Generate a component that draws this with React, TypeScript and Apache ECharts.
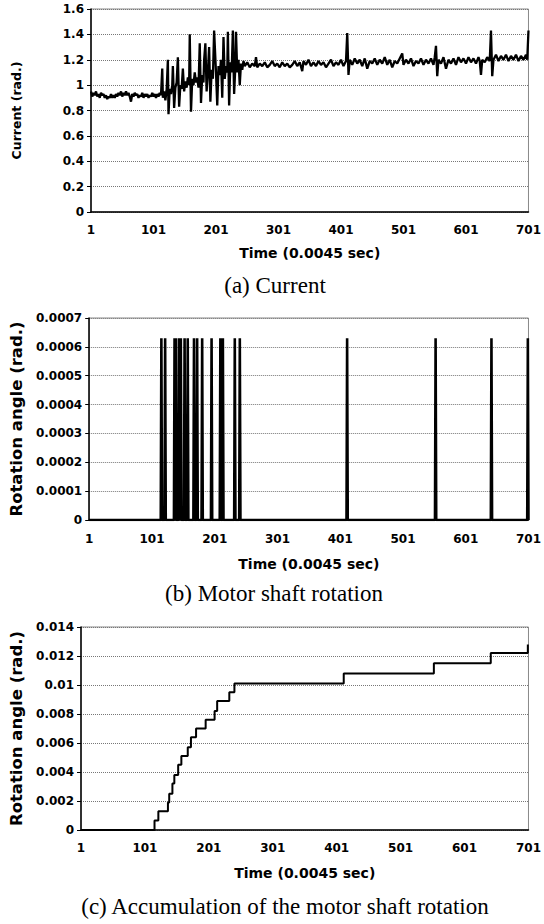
import React, { useEffect, useRef } from "react";
import * as echarts from "echarts";

// ---------- data (sample number, value) ----------
const currentSamples: [number, number][] = [
  [1, 0.95], [3, 0.91], [5, 0.94], [7, 0.92], [9, 0.95], [11, 0.91], [13, 0.93], [15, 0.9], [17, 0.94], [19, 0.92],
  [21, 0.93], [23, 0.9], [25, 0.92], [27, 0.89], [29, 0.91], [31, 0.9], [33, 0.93], [35, 0.9], [37, 0.92], [39, 0.9],
  [41, 0.93], [43, 0.91], [45, 0.94], [47, 0.92], [49, 0.95], [51, 0.91], [53, 0.94], [55, 0.92], [57, 0.95], [59, 0.92],
  [61, 0.94], [63, 0.91], [65, 0.87], [67, 0.93], [69, 0.91], [71, 0.94], [73, 0.92], [75, 0.93], [77, 0.9], [79, 0.92],
  [81, 0.91], [83, 0.94], [85, 0.9], [87, 0.93], [89, 0.91], [91, 0.93], [93, 0.9], [95, 0.92], [97, 0.91], [99, 0.94],
  [101, 0.91], [103, 0.93], [105, 0.9], [107, 0.93], [109, 0.91], [111, 0.94], [113, 0.92],
  [115, 1.13], [116, 0.9], [118, 0.95], [120, 0.88], [122, 0.96], [124, 1.2], [125, 0.77], [127, 0.97], [129, 0.93],
  [131, 1.0], [132, 1.15], [134, 0.82], [136, 0.98], [138, 1.02], [140, 1.22], [142, 0.83], [144, 1.0], [146, 0.97],
  [148, 1.13], [150, 0.95], [152, 1.03], [154, 0.98], [156, 1.06], [158, 1.0], [159, 1.4], [161, 0.79], [163, 1.05],
  [165, 1.0], [167, 1.1], [169, 1.02], [171, 1.06], [173, 0.98], [175, 1.33], [177, 0.86], [179, 1.08], [181, 1.02],
  [182, 1.2], [184, 1.33], [186, 0.95], [188, 1.1], [190, 1.3], [192, 0.87], [194, 1.12], [196, 1.05], [198, 1.43],
  [201, 1.1], [203, 0.84], [205, 1.15], [207, 1.08], [209, 1.2], [211, 0.9], [213, 1.38], [215, 1.05], [217, 1.15],
  [219, 1.1], [220, 1.42], [222, 0.84], [224, 1.18], [226, 1.1], [228, 1.43], [230, 0.93], [232, 1.15], [233, 1.42],
  [235, 1.1], [237, 1.2], [239, 1.0], [241, 1.17], [243, 1.12], [245, 1.19],
  [247, 1.15], [251, 1.18], [255, 1.14], [259, 1.17], [263, 1.15], [265, 1.22], [267, 1.14], [271, 1.17], [275, 1.15],
  [279, 1.18], [283, 1.14], [287, 1.16], [291, 1.19], [295, 1.15], [299, 1.17], [303, 1.14], [307, 1.18], [311, 1.15],
  [315, 1.17], [319, 1.14], [323, 1.16], [327, 1.19], [331, 1.15], [335, 1.18], [339, 1.11], [341, 1.19], [345, 1.16],
  [349, 1.2], [353, 1.15], [357, 1.18], [361, 1.15], [365, 1.19], [369, 1.16], [373, 1.18], [377, 1.14], [381, 1.17],
  [385, 1.2], [389, 1.15], [393, 1.18], [397, 1.16], [401, 1.2], [405, 1.15], [409, 1.19], [411, 1.41], [413, 1.08],
  [415, 1.2], [419, 1.16], [423, 1.21], [427, 1.17], [431, 1.2], [435, 1.15], [439, 1.21], [443, 1.13], [447, 1.19],
  [451, 1.17], [455, 1.21], [459, 1.16], [463, 1.2], [467, 1.17], [471, 1.22], [475, 1.16], [479, 1.2], [483, 1.14],
  [487, 1.19], [491, 1.17], [495, 1.21], [499, 1.25], [501, 1.16], [505, 1.2], [509, 1.17], [513, 1.21], [517, 1.15],
  [521, 1.19], [525, 1.17], [529, 1.21], [533, 1.16], [537, 1.2], [541, 1.17], [545, 1.21], [549, 1.16], [551, 1.22],
  [553, 1.31], [555, 1.07], [557, 1.2], [561, 1.17], [565, 1.22], [569, 1.13], [573, 1.2], [577, 1.17], [581, 1.21],
  [585, 1.16], [589, 1.22], [593, 1.18], [597, 1.21], [601, 1.17], [605, 1.22], [609, 1.18], [613, 1.21], [617, 1.17],
  [621, 1.22], [623, 1.19], [625, 1.08], [627, 1.2], [631, 1.18], [635, 1.22], [639, 1.19], [641, 1.43], [643, 1.07],
  [645, 1.2], [649, 1.24], [653, 1.19], [657, 1.23], [661, 1.2], [665, 1.24], [669, 1.19], [673, 1.23], [677, 1.2],
  [681, 1.24], [685, 1.19], [689, 1.23], [693, 1.2], [697, 1.24], [699, 1.2], [701, 1.43],
];

// sample numbers at which one shaft-rotation pulse was recorded
const rotationEvents = [116, 122, 137, 139, 144, 147, 153, 158, 168, 173, 181, 196, 210, 214, 233, 241, 412, 553, 642, 700];
const pulseAngle = 0.00063;

// accumulated angle: sample at which each step happens and level after it
const accumSteps = [116, 122, 137, 139, 144, 147, 153, 158, 168, 173, 181, 196, 210, 214, 233, 241, 412, 553, 642, 700];
const accumLevels = [
  0.00065, 0.0013, 0.0019, 0.0025, 0.0032, 0.0038, 0.0045, 0.0051, 0.0057, 0.0064,
  0.007, 0.0076, 0.0082, 0.0089, 0.0095, 0.0101, 0.0108, 0.0115, 0.0122, 0.0128,
];

const xTitle = "Time (0.0045 sec)";
const captions = ["(a) Current", "(b) Motor shaft rotation", "(c) Accumulation of the motor shaft rotation"];
const yTitles = ["Current (rad.)", "Rotation angle (rad.)", "Rotation angle (rad.)"];
const lastSample = 701;

const FONT = '"DejaVu Sans", sans-serif';

function buildOption() {
  const grids = [
    { left: 91, top: 9, width: 447, height: 203 },
    { left: 89, top: 318, width: 449, height: 202 },
    { left: 81, top: 627, width: 457, height: 203 },
  ];
  const xLabelMargin = [12, 13, 12];
  const xNameGap = [34, 37, 36];
  const yNameGap = [68, 64, 56];
  const yNameSize = [12.5, 16.5, 16.5];
  const yRanges = [
    { min: 0, max: 1.6, interval: 0.2 },
    { min: 0, max: 0.0007, interval: 0.0001 },
    { min: 0, max: 0.014, interval: 0.002 },
  ];

  const xAxis = grids.map((_, i) => ({
    type: "value",
    gridIndex: i,
    min: 0,
    max: lastSample - 1,
    interval: 100,
    axisLine: { show: true, onZero: false, lineStyle: { color: "#000", width: 1.5 } },
    axisTick: { show: false },
    splitLine: { show: false },
    axisLabel: {
      formatter: (v: number) => String(v + 1),
      color: "#000",
      fontFamily: FONT,
      fontWeight: "bold",
      fontSize: 12,
      margin: xLabelMargin[i],
      showMaxLabel: true,
      hideOverlap: false,
    },
    name: xTitle,
    nameLocation: "middle",
    nameGap: xNameGap[i],
    nameTextStyle: { color: "#000", fontFamily: FONT, fontWeight: "bold", fontSize: 14 },
  }));

  const yAxis = grids.map((_, i) => ({
    type: "value",
    gridIndex: i,
    ...yRanges[i],
    axisLine: { show: true, lineStyle: { color: "#000", width: 1.5 } },
    axisTick: { show: true, length: 4, lineStyle: { color: "#000" } },
    splitLine: { show: true, lineStyle: { color: "#777", type: "dotted", width: 1 } },
    axisLabel: { color: "#000", fontFamily: FONT, fontWeight: "bold", fontSize: 12, margin: 7 },
    name: yTitles[i],
    nameLocation: "middle",
    nameGap: yNameGap[i],
    nameTextStyle: { color: "#000", fontFamily: FONT, fontWeight: "bold", fontSize: yNameSize[i] },
  }));

  const currentData = currentSamples.map(([s, v]) => [s - 1, v]);

  const pulseData: number[][] = [[0, 0]];
  rotationEvents.forEach((s) => {
    pulseData.push([s - 2, 0], [s - 1, pulseAngle], [s, 0]);
  });
  pulseData.push([lastSample - 1, 0]);

  const accumData: number[][] = [[0, 0]];
  accumSteps.forEach((s, k) => accumData.push([s - 1, accumLevels[k]]));
  accumData.push([lastSample - 1, accumLevels[accumLevels.length - 1]]);

  const captionY = [285, 593, 906];
  const captionX = [275, 274, 285];

  return {
    animation: false,
    backgroundColor: "#fff",
    grid: grids.map((g) => ({ ...g, show: true, borderColor: "#888", borderWidth: 1, backgroundColor: "transparent" })),
    xAxis,
    yAxis,
    series: [
      {
        type: "line",
        xAxisIndex: 0,
        yAxisIndex: 0,
        data: currentData,
        showSymbol: false,
        symbol: "none",
        lineStyle: { color: "#000", width: 2.3 },
      },
      {
        type: "line",
        xAxisIndex: 1,
        yAxisIndex: 1,
        data: pulseData,
        showSymbol: false,
        symbol: "none",
        lineStyle: { color: "#000", width: 2.6 },
      },
      {
        type: "line",
        xAxisIndex: 2,
        yAxisIndex: 2,
        data: accumData,
        step: "end",
        showSymbol: false,
        symbol: "none",
        lineStyle: { color: "#000", width: 2 },
      },
    ],
    graphic: captions.map((t, i) => ({
      type: "text",
      x: captionX[i],
      y: captionY[i],
      style: {
        text: t,
        font: '23px "Liberation Serif", "Times New Roman", serif',
        fill: "#000",
        align: "center",
        verticalAlign: "middle",
      },
    })),
  };
}

export default function App() {
  const ref = useRef<HTMLDivElement>(null);
  useEffect(() => {
    const chart = echarts.init(ref.current!, null, { renderer: "svg" });
    chart.setOption(buildOption() as any);
    return () => chart.dispose();
  }, []);
  return (
    <div
      ref={ref}
      style={{ position: "absolute", left: 0, top: 0, width: 544, height: 924, background: "#fff" }}
    />
  );
}
